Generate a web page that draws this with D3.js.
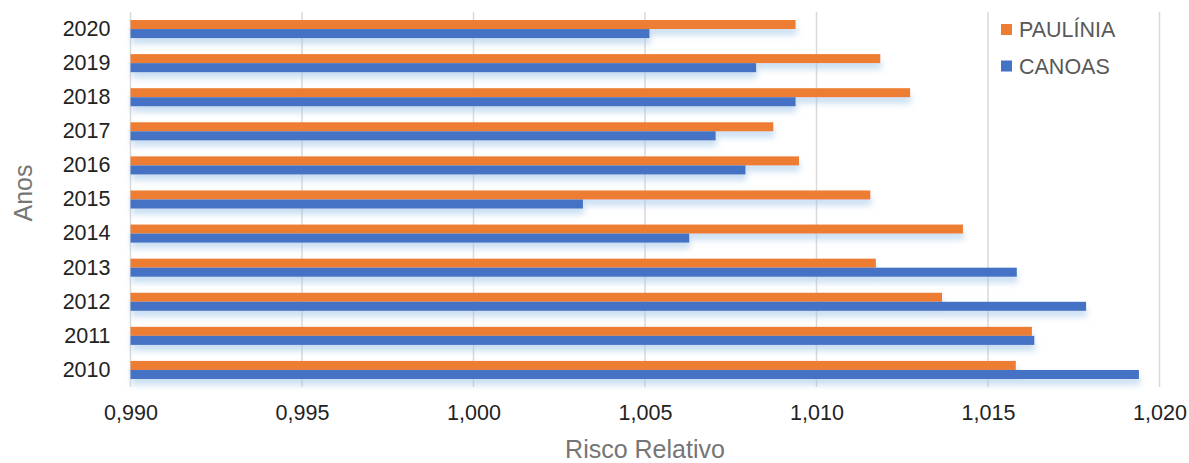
<!DOCTYPE html>
<html><head><meta charset="utf-8">
<script src="https://cdn.jsdelivr.net/npm/d3@7/dist/d3.min.js"></script>
<style>
html,body{margin:0;padding:0;background:#fff;}
svg{display:block;font-family:"Liberation Sans",Arial,sans-serif;}
</style></head>
<body>
<svg id="chart" width="1189" height="463"></svg>
<script>
const years = ["2020","2019","2018","2017","2016","2015","2014","2013","2012","2011","2010"];
const seriesNames = ["PAULÍNIA","CANOAS"];
const paulinia = [1.00939,1.01186,1.01273,1.00874,1.00949,1.01157,1.01427,1.01173,1.01366,1.01628,1.01581];
const canoas   = [1.00513,1.00824,1.00939,1.00706,1.00793,1.00319,1.00629,1.01584,1.01786,1.01635,1.01940];
const xTicks = [0.990,0.995,1.000,1.005,1.010,1.015,1.020];
const seriesColors = ["#ED7D31","#4472C4"];

const svg = d3.select("#chart");
const m = {left:130.5, right:1159.5, top:12, bottom:387};

const x = d3.scaleLinear().domain([0.990,1.020]).range([m.left,m.right]);
const y = d3.scaleBand().domain(years).range([m.top,m.bottom]).paddingInner(0.47).paddingOuter(0.235);
const ySub = d3.scaleBand().domain(seriesNames).range([0,y.bandwidth()]);
const color = d3.scaleOrdinal().domain(seriesNames).range(seriesColors);

const defs = svg.append("defs");
const f = defs.append("filter").attr("id","shadow").attr("x","-5%").attr("y","-50%").attr("width","110%").attr("height","250%");
f.append("feDropShadow").attr("dx",1).attr("dy",6).attr("stdDeviation",3)
 .attr("flood-color","#9dc3e6").attr("flood-opacity",0.55);

// gridlines
svg.append("g").selectAll("line").data(xTicks).join("line")
  .attr("x1",d=>x(d)).attr("x2",d=>x(d)).attr("y1",m.top).attr("y2",m.bottom)
  .attr("stroke","#d9d9d9").attr("stroke-width",1.5);

// bars
const rows = years.map((yr,i)=>({year:yr, values:[
  {name:seriesNames[0], v:paulinia[i]},
  {name:seriesNames[1], v:canoas[i]}]}));

svg.append("g").selectAll("g").data(rows).join("g")
  .attr("transform",d=>`translate(0,${y(d.year)})`)
  .attr("filter","url(#shadow)")
  .selectAll("rect").data(d=>d.values).join("rect")
  .attr("x",x(0.990)).attr("y",d=>ySub(d.name))
  .attr("width",d=>x(d.v)-x(0.990)).attr("height",ySub.bandwidth())
  .attr("fill",d=>color(d.name));

// y axis labels
const yAxis = d3.axisLeft(y).tickSize(0).tickPadding(20);
const gy = svg.append("g").attr("transform",`translate(${m.left},0)`).call(yAxis);
gy.select(".domain").remove();
gy.selectAll("text").attr("font-size",21.5).attr("fill","#222").attr("font-family","Liberation Sans, Arial, sans-serif");

// x axis labels
const xAxis = d3.axisBottom(x).tickValues(xTicks).tickSize(0).tickPadding(0)
  .tickFormat(d=>d3.format(".3f")(d).replace(".",","));
const gx = svg.append("g").attr("transform",`translate(0,${m.bottom})`).call(xAxis);
gx.select(".domain").remove();
gx.selectAll("text").attr("font-size",21.5).attr("fill","#222").attr("dy",null).attr("y",33)
  .attr("font-family","Liberation Sans, Arial, sans-serif");

// axis titles
svg.append("text").attr("x",(m.left+m.right)/2).attr("y",458).attr("text-anchor","middle")
  .attr("font-size",25).attr("fill","#757575").text("Risco Relativo");
svg.append("text").attr("transform","translate(32,193) rotate(-90)").attr("text-anchor","middle")
  .attr("font-size",25).attr("fill","#757575").text("Anos");

// legend
const lg = svg.append("g").selectAll("g").data(seriesNames).join("g")
  .attr("transform",(d,i)=>`translate(1001,${29.5+i*36.5})`);
lg.append("rect").attr("x",0).attr("y",-5.5).attr("width",11).attr("height",11).attr("fill",d=>color(d));
lg.append("text").attr("x",18).attr("y",0).attr("dy","0.35em").attr("font-size",21.5).attr("fill","#595959").text(d=>d);
</script>
</body></html>
